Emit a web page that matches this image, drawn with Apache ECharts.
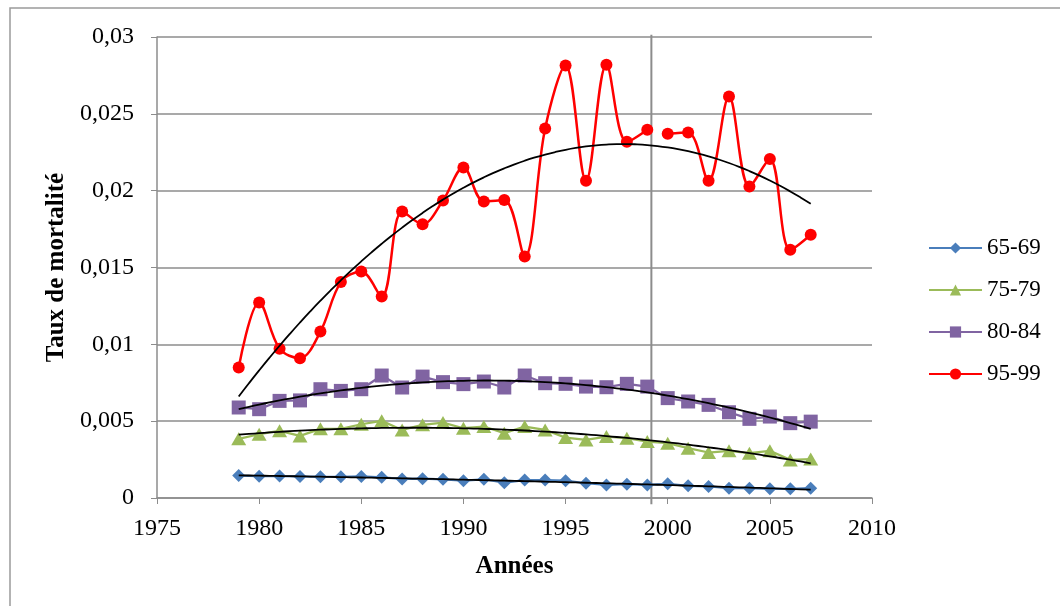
<!DOCTYPE html>
<html>
<head>
<meta charset="utf-8">
<script src="https://cdn.jsdelivr.net/npm/echarts@6/dist/echarts.min.js"></script>
<style>
html,body{margin:0;padding:0;background:#fff;}
#chart{width:1060px;height:606px;}
</style>
</head>
<body>
<div id="chart"></div>
<script>
// ---- Data ----
var years = [1979,1980,1981,1982,1983,1984,1985,1986,1987,1988,1989,1990,1991,1992,1993,1994,1995,1996,1997,1998,1999,2000,2001,2002,2003,2004,2005,2006,2007];
var seriesNames = ['65-69','75-79','80-84','95-99'];
var v6569 = [0.00146,0.00142,0.00143,0.00140,0.00138,0.00138,0.00140,0.00135,0.00124,0.00126,0.00122,0.00113,0.00122,0.00100,0.00117,0.00117,0.00113,0.00096,0.00085,0.00090,0.00085,0.00092,0.00079,0.00075,0.00064,0.00064,0.00060,0.00060,0.00064];
var v7579 = [0.00385,0.00415,0.00437,0.00404,0.00450,0.00450,0.00480,0.00502,0.00443,0.00476,0.00491,0.00454,0.00465,0.00422,0.00465,0.00443,0.00393,0.00378,0.00400,0.00389,0.00367,0.00357,0.00324,0.00296,0.00307,0.00292,0.00307,0.00248,0.00253];
var v8084 = [0.00589,0.00578,0.00632,0.00635,0.00708,0.00697,0.00708,0.00797,0.00719,0.00790,0.00754,0.00741,0.00758,0.00719,0.00797,0.00747,0.00743,0.00725,0.00721,0.00743,0.00725,0.00650,0.00628,0.00606,0.00558,0.00515,0.00530,0.00487,0.00497];
var v9599 = [0.00849,0.01272,0.00971,0.00910,0.01083,0.01405,0.01474,0.01311,0.01865,0.01782,0.01936,0.02151,0.01930,0.01939,0.01572,0.02405,0.02815,0.02064,0.02820,0.02318,0.02397,0.02370,0.02379,0.02064,0.02613,0.02027,0.02206,0.01615,0.01713];
var redBreakAfter = 1999;   // the 95-99 line is interrupted between 1999 and 2000
var separatorYear = 1999.2; // vertical grey separator line
var separatorRange = [-0.0004, 0.03015];
var yTicks = {min:0, max:0.03, interval:0.005};
var xTicks = {min:1975, max:2010, interval:5};

// ---- Helpers ----
function pairs(vals){ return years.map(function(y,i){ return [y, vals[i]]; }); }
function pairsWithBreak(vals, after){
  var out = [];
  years.forEach(function(y,i){
    out.push([y, vals[i]]);
    if (y === after) out.push([y + 0.5, null]);
  });
  return out;
}
// least-squares polynomial trend (like the spreadsheet's polynomial trendline)
function polyFit(xs, ys, deg){
  var n = deg + 1, A = [], b = [];
  var x0 = xs[0];
  for (var r = 0; r < n; r++){ A.push(new Array(n).fill(0)); b.push(0); }
  xs.forEach(function(x,k){
    var t = x - x0;
    for (var r = 0; r < n; r++){
      for (var c = 0; c < n; c++) A[r][c] += Math.pow(t, r + c);
      b[r] += ys[k] * Math.pow(t, r);
    }
  });
  for (var i = 0; i < n; i++){
    var p = i;
    for (var j = i+1; j < n; j++) if (Math.abs(A[j][i]) > Math.abs(A[p][i])) p = j;
    var tmp = A[i]; A[i] = A[p]; A[p] = tmp; var tb = b[i]; b[i] = b[p]; b[p] = tb;
    for (var j = i+1; j < n; j++){
      var f = A[j][i] / A[i][i];
      for (var c = i; c < n; c++) A[j][c] -= f * A[i][c];
      b[j] -= f * b[i];
    }
  }
  var coef = new Array(n).fill(0);
  for (var i = n-1; i >= 0; i--){
    var s = b[i];
    for (var c = i+1; c < n; c++) s -= A[i][c] * coef[c];
    coef[i] = s / A[i][i];
  }
  return function(x){ var t = x - x0, s = 0; for (var i = 0; i < n; i++) s += coef[i]*Math.pow(t,i); return s; };
}
function trendData(vals, deg){
  var f = polyFit(years, vals, deg);
  var out = [];
  for (var y = years[0]; y <= years[years.length-1] + 1e-9; y += 0.5) out.push([y, f(y)]);
  return out;
}

var colors = ['#4A7EBB','#9BBB59','#8064A2','#FF0000'];
var font = 'Liberation Serif, Times New Roman, serif';
var diamond = 'path://M0,-1L1,0L0,1L-1,0Z';

function trendSeries(vals, deg){
  return {
    type:'line', name:'trend', data: trendData(vals, deg), smooth:true,
    showSymbol:false, silent:true, z:5,
    lineStyle:{color:'#000', width:1.8}, itemStyle:{color:'#000'}
  };
}

var chart = echarts.init(document.getElementById('chart'), null, {renderer:'canvas'});
chart.setOption({
  animation:false,
  backgroundColor:'#fff',
  textStyle:{fontFamily:font},
  graphic:[{
    type:'rect', shape:{x:10, y:8, width:1100, height:700},
    style:{fill:'none', stroke:'#9a9a9a', lineWidth:1.5}, silent:true
  }],
  grid:{left:157, top:37, right:188, bottom:108, containLabel:false},
  legend:{
    data:seriesNames, orient:'vertical', left:928, top:236, padding:0,
    itemWidth:53, itemHeight:14, itemGap:18,
    textStyle:{fontFamily:font, fontSize:23, color:'#000', lineHeight:24}
  },
  xAxis:{
    type:'value', min:xTicks.min, max:xTicks.max, interval:xTicks.interval,
    name:'Années', nameLocation:'middle', nameGap:56,
    nameTextStyle:{fontFamily:font, fontSize:25, fontWeight:'bold', color:'#000'},
    axisLine:{onZero:false, lineStyle:{color:'#8c8c8c', width:1.5}},
    axisTick:{show:true, inside:false, length:6, lineStyle:{color:'#8c8c8c'}},
    axisLabel:{fontFamily:font, fontSize:24, color:'#000', margin:19,
      formatter:function(v){ return String(v); }},
    splitLine:{show:false}
  },
  yAxis:{
    type:'value', min:yTicks.min, max:yTicks.max, interval:yTicks.interval,
    name:'Taux de mortalité', nameLocation:'middle', nameGap:85, nameRotate:90,
    nameTextStyle:{fontFamily:font, fontSize:25, fontWeight:'bold', color:'#000'},
    axisLine:{show:true, lineStyle:{color:'#8c8c8c', width:1.5}},
    axisTick:{show:true, inside:false, length:6, lineStyle:{color:'#8c8c8c'}},
    axisLabel:{fontFamily:font, fontSize:24, color:'#000', margin:23,
      formatter:function(v){ return String(+v.toFixed(4)).replace('.', ','); }},
    splitLine:{show:true, lineStyle:{color:'#8c8c8c', width:1.5}}
  },
  series:[
    {name:'separator', type:'line', data:[[separatorYear, separatorRange[0]],[separatorYear, separatorRange[1]]],
     showSymbol:false, silent:true, clip:false, z:2,
     lineStyle:{color:'#8c8c8c', width:2}, itemStyle:{color:'#8c8c8c'}},
    {name:seriesNames[0], type:'line', data:pairs(v6569), symbol:diamond, symbolSize:13,
     lineStyle:{color:colors[0], width:2.25}, itemStyle:{color:colors[0]}, z:3},
    {name:seriesNames[1], type:'line', data:pairs(v7579), symbol:'triangle', symbolSize:[15,13],
     lineStyle:{color:colors[1], width:2.25}, itemStyle:{color:colors[1]}, z:3},
    {name:seriesNames[2], type:'line', data:pairs(v8084), symbol:'rect', symbolSize:14,
     lineStyle:{color:colors[2], width:2.25}, itemStyle:{color:colors[2]}, z:3},
    {name:seriesNames[3], type:'line', data:pairsWithBreak(v9599, redBreakAfter), symbol:'circle', symbolSize:12,
     smooth:0.35, connectNulls:false,
     lineStyle:{color:colors[3], width:2.5}, itemStyle:{color:colors[3]}, z:3},
    trendSeries(v6569, 2),
    trendSeries(v7579, 2),
    trendSeries(v8084, 2),
    trendSeries(v9599, 2)
  ]
});
</script>
</body>
</html>
